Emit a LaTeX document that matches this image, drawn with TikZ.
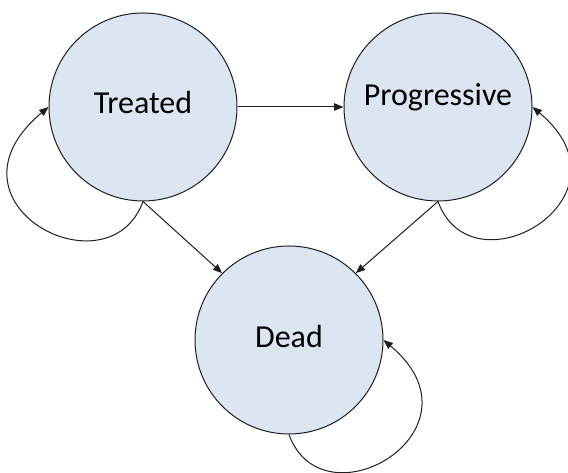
\documentclass[tikz,border=0pt]{standalone}
\usepackage{fontspec}
\setmainfont{Carlito}
\usepackage{xcolor}
\definecolor{ColFill}{RGB}{220,230,242}
\definecolor{ColLine}{RGB}{30,30,30}
\usetikzlibrary{arrows.meta}
\tikzstyle{State}=[circle,draw=ColLine,fill=ColFill,line width=.75pt,
minimum size=141pt,inner sep=0pt]
\tikzstyle{StateText}=[inner sep=0pt,font=\fontsize{24}{28}\selectfont]
\tikzstyle{Edge}=[draw=ColLine,line width=.75pt,
-{Triangle[length=7pt,width=5.5pt]}]

\begin{document}
\begin{tikzpicture}[x=.75pt,y=.75pt]
        \useasboundingbox (0,0) rectangle (568,473);
        \node[State](treated)at(143.00,366.00){};
        \node[State](progressive)at(438.00,366.00){};
        \node[State](dead)at(289.00,133.00){};
        \node[StateText](treatedL)at(143.00,370.00){Treated};
        \node[StateText](progressiveL)at(438.00,376.00){Progressive};
        \node[StateText](deadL)at(289.00,136.00){Dead};
        \draw[Edge](treated)--(progressive);
        \draw[Edge](treated.south)--(dead.135);
        \draw[Edge](progressive.south)--(dead.45);
        \draw[Edge](treated.south)
            .. controls +(-110:100) and +(-140:150) .. (treated.west);
        \draw[Edge](progressive.south)
            .. controls +(-70:100) and +(-40:140) .. (progressive.east);
        \draw[Edge](dead.south)
            .. controls +(-70:100) and +(-40:140) .. (dead.east);
    \end{tikzpicture}
\end{document}
